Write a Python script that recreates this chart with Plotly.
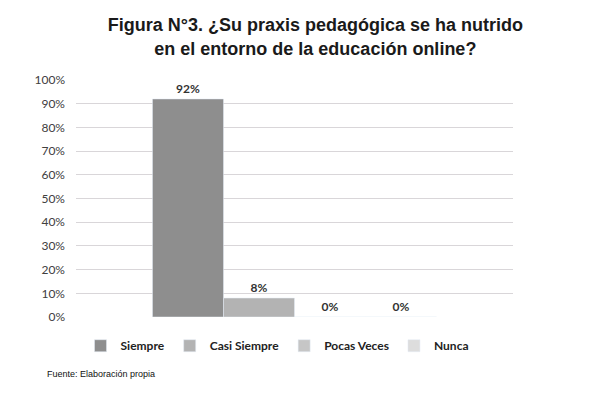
import plotly.graph_objects as go

categories = [""]
series_names = ["Siempre", "Casi Siempre", "Pocas Veces", "Nunca"]
series_values = [[0.92], [0.08], [0.0], [0.0]]
series_labels = ["92%", "8%", "0%", "0%"]
colors = ["#8e8e8e", "#b3b3b3", "#c6c6c6", "#dddddd"]

fig = go.Figure()
for name, vals, lab, col in zip(series_names, series_values, series_labels, colors):
    fig.add_trace(go.Bar(
        x=categories, y=vals, name=name, marker_color=col,
        text=[lab], textposition="outside", cliponaxis=False,
        textfont=dict(family="Lato", size=12, color="#333333", weight="bold"),
    ))

fig.update_layout(
    width=610, height=399,
    margin=dict(l=76, r=97, t=80, b=82),
    barmode="group", bargap=0.35, bargroupgap=0,
    plot_bgcolor="white", paper_bgcolor="white",
    title=dict(
        text="<b>Figura N°3. ¿Su praxis pedagógica se ha nutrido<br>en el entorno de la educación online?</b>",
        x=0.517, xanchor="center", y=0.922, yanchor="top",
        font=dict(family="Liberation Sans", size=18, color="#1a1a1a"),
    ),
    legend=dict(
        orientation="h", x=0.46, xanchor="center", y=-0.06, yanchor="top",
        font=dict(family="Lato", size=12, color="#222222", weight="bold"),
        itemwidth=30, traceorder="normal",
    ),
    showlegend=True,
)
fig.update_xaxes(showticklabels=False, showline=False, showgrid=False, zeroline=False)
fig.update_yaxes(
    range=[0, 1], dtick=0.1, tickformat=".0%",
    showgrid=True, gridcolor="#d9d6d9", gridwidth=1,
    zeroline=False, showline=False, ticks="", ticklabelstandoff=10,
    tickfont=dict(family="Lato", size=12, color="#404040"),
)
fig.add_annotation(
    text="Fuente: Elaboración propia", xref="paper", yref="paper",
    x=-0.07, xanchor="left", y=-0.24, yanchor="middle", showarrow=False,
    font=dict(family="Liberation Sans", size=9, color="#111111"),
)
fig.write_html("out.html", config={"displayModeBar": False},
               post_script="document.body.style.margin='0';")
